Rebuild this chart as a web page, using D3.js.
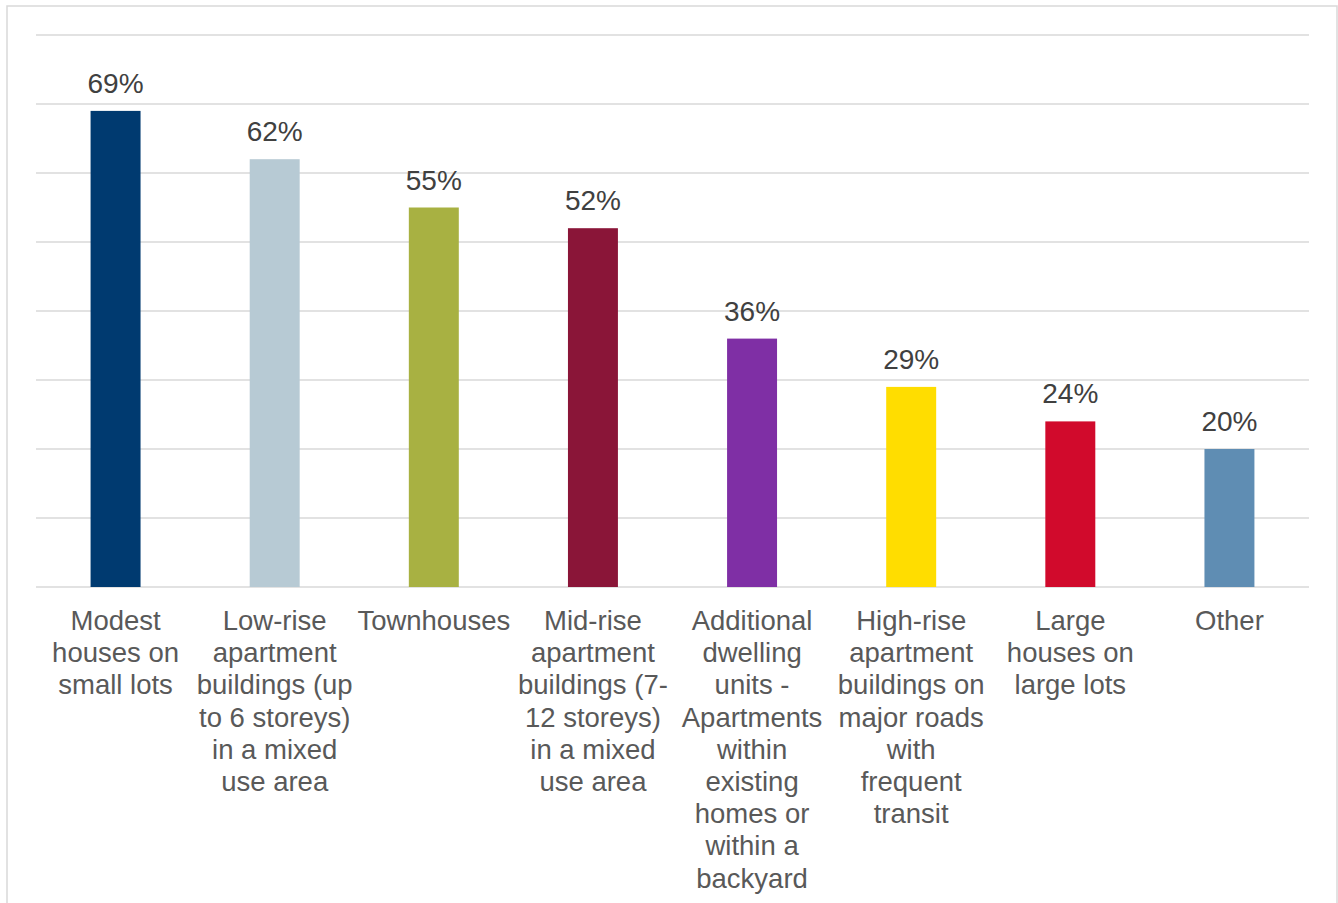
<!DOCTYPE html>
<html>
<head>
<meta charset="utf-8">
<script src="https://cdn.jsdelivr.net/npm/d3@7"></script>
<style>
  html, body { margin: 0; padding: 0; background: #fff; }
  svg { display: block; font-family: "Liberation Sans", Arial, sans-serif; }
</style>
</head>
<body>
<svg id="chart" width="1338" height="903"></svg>
<script>
// chart data
const categories = [
  ['Modest', 'houses on', 'small lots'],
  ['Low-rise', 'apartment', 'buildings (up', 'to 6 storeys)', 'in a mixed', 'use area'],
  ['Townhouses'],
  ['Mid-rise', 'apartment', 'buildings (7-', '12 storeys)', 'in a mixed', 'use area'],
  ['Additional', 'dwelling', 'units -', 'Apartments', 'within', 'existing', 'homes or', 'within a', 'backyard'],
  ['High-rise', 'apartment', 'buildings on', 'major roads', 'with', 'frequent', 'transit'],
  ['Large', 'houses on', 'large lots'],
  ['Other']
];
const values = [69, 62, 55, 52, 36, 29, 24, 20];
const colors = ['#003A70', '#B7CAD4', '#A8B142', '#8A1538', '#7F2FA5', '#FFDD00', '#D10A2C', '#5F8DB3'];
const yTicks = [0, 10, 20, 30, 40, 50, 60, 70, 80];

const svg = d3.select('#chart');

// outer border
svg.append('rect')
  .attr('x', 7).attr('y', 6)
  .attr('width', 1330).attr('height', 920)
  .attr('fill', 'none')
  .attr('stroke', '#d9d9d9')
  .attr('stroke-width', 1.5);

const plotLeft = 36, plotRight = 1309, plotTop = 35, plotBottom = 587;
const idx = d3.range(values.length);

const x = d3.scaleBand()
  .domain(idx)
  .range([plotLeft, plotRight])
  .paddingInner(0.686)
  .paddingOuter(0.343);

const y = d3.scaleLinear()
  .domain([0, 80])
  .range([plotBottom, plotTop]);

// gridlines
svg.append('g')
  .selectAll('line')
  .data(yTicks)
  .enter()
  .append('line')
  .attr('x1', plotLeft).attr('x2', plotRight)
  .attr('y1', d => y(d)).attr('y2', d => y(d))
  .attr('stroke', '#d9d9d9')
  .attr('stroke-width', 1.5);

// bars
svg.append('g')
  .selectAll('rect')
  .data(idx)
  .enter()
  .append('rect')
  .attr('x', i => x(i))
  .attr('y', i => y(values[i]))
  .attr('width', x.bandwidth())
  .attr('height', i => plotBottom - y(values[i]))
  .attr('fill', i => colors[i]);

// value labels
svg.append('g')
  .selectAll('text')
  .data(idx)
  .enter()
  .append('text')
  .attr('x', i => x(i) + x.bandwidth() / 2)
  .attr('y', i => y(values[i]) - 18)
  .attr('text-anchor', 'middle')
  .attr('font-size', '28px')
  .attr('fill', '#404040')
  .text(i => values[i] + '%');

// category labels
const cat = svg.append('g')
  .selectAll('text')
  .data(idx)
  .enter()
  .append('text')
  .attr('text-anchor', 'middle')
  .attr('font-size', '27.5px')
  .attr('fill', '#595959');

cat.selectAll('tspan')
  .data(i => categories[i].map((t, k) => ({ t, k, i })))
  .enter()
  .append('tspan')
  .attr('x', d => x(d.i) + x.bandwidth() / 2)
  .attr('y', d => 630 + d.k * 32.2)
  .text(d => d.t);
</script>
</body>
</html>
